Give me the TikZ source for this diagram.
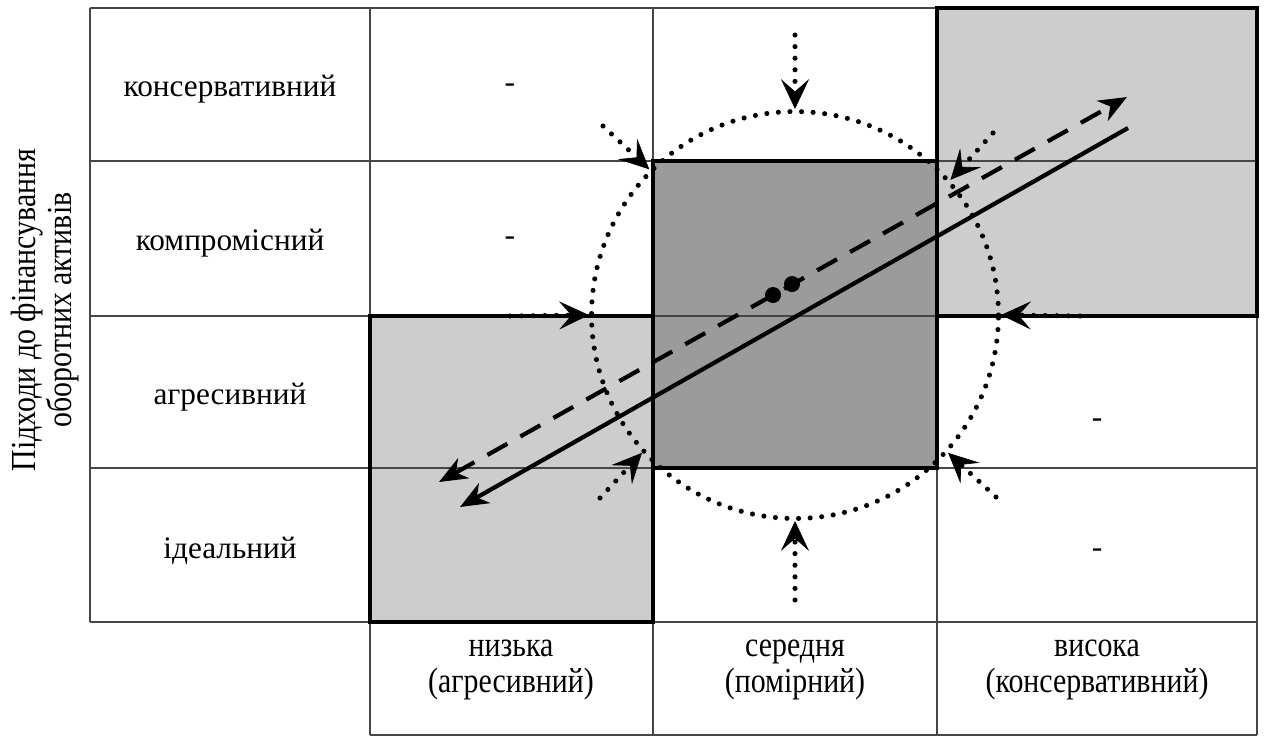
\documentclass[tikz,border=0pt]{standalone}
\usepackage{fontspec}
\setmainfont{Liberation Serif}
\newfontfamily\condfont[FakeStretch=0.85]{Liberation Serif}
\usetikzlibrary{arrows.meta}
\definecolor{lightbox}{RGB}{205,205,205}
\definecolor{darkbox}{RGB}{155,155,155}
\definecolor{gridc}{RGB}{70,70,70}
\tikzset{
  gridline/.style={draw=gridc, line width=0.9pt},
  thickbox/.style={draw=black, line width=2.6pt},
  dotline/.style={line width=2.9pt, dash pattern=on 0pt off 6.6pt, line cap=round},
  inarrow/.style={dotline, -{Stealth[length=17pt,width=16pt,inset=7pt,line width=0.4pt]}},
  rowlabel/.style={font=\fontsize{17.8}{20}\selectfont, inner sep=0},
  collabel/.style={font=\condfont\fontsize{20}{20.5}\selectfont, align=center, inner sep=0},
  minus/.style={font=\fontsize{18}{20}\selectfont, inner sep=0},
  mainline/.style={line width=2.4pt},
  dotmark/.style={circle, fill=black, minimum size=0.32cm, inner sep=0},
}
\begin{document}
\begin{tikzpicture}[x=0.02cm,y=-0.02cm]
\useasboundingbox (0,0) rectangle (1270,738);
% fills
\fill[lightbox] (370,316) rectangle (653,622);
\fill[darkbox] (653,161) rectangle (937,468);
\fill[lightbox] (937,8) rectangle (1257,316);
% grid
\foreach \y in {8,161,316,468,622} \draw[gridline] (90,\y) -- (1257,\y);
\draw[gridline, line width=1.3pt] (370,735) -- (1257,735);
\draw[gridline] (90,8) -- (90,622);
\foreach \x in {370,653,937,1257} \draw[gridline] (\x,8) -- (\x,735);
% thick boxes
\draw[thickbox] (370,316) rectangle (653,622);
\draw[thickbox] (653,161) rectangle (937,468);
\draw[thickbox] (937,8) rectangle (1257,316);
% row labels
\node[rowlabel] (r1) at (230,89) {консервативний};
\node[rowlabel] (r2) at (230,243) {компромісний};
\node[rowlabel] (r3) at (230,397) {агресивний};
\node[rowlabel] (r4) at (230,551) {ідеальний};
\node[collabel, rotate=90] (ylab) at (45,310) {Підходи до фінансування\\оборотних активів};
% column labels
\node[collabel] (c1) at (511,670) {низька\\(агресивний)};
\node[collabel] (c2) at (795,670) {середня\\(помірний)};
\node[collabel] (c3) at (1097,670) {висока\\(консервативний)};
% minus signs
\node[minus] (m1) at (510,88) {-};
\node[minus] (m2) at (510,241) {-};
\node[minus] (m3) at (1097,423) {-};
\node[minus] (m4) at (1097,553) {-};
% dotted ring
\node[draw, circle, dotline, minimum size=8.14cm, inner sep=0] (ring) at (795,315) {};
% inward arrows
\coordinate (aT) at (795,35);
\coordinate (aB) at (795,600);
\coordinate (aL) at (510,316);
\coordinate (aR) at (1080,316);
\coordinate (aTL) at (603,126);
\coordinate (aTR) at (993,133);
\coordinate (aBL) at (600,498);
\coordinate (aBR) at (996,497);
\draw[inarrow] (aT) -- (ring.north);
\draw[inarrow] (aB) -- (ring.south);
\draw[inarrow] (aL) -- (ring.west);
\draw[inarrow] (aR) -- (ring.east);
\draw[inarrow] (aTL) -- (ring.135);
\draw[inarrow] (aTR) -- (ring.41);
\draw[inarrow] (aBL) -- (ring.222);
\draw[inarrow] (aBR) -- (ring.318);
% main lines
\coordinate (sA) at (1128,128);
\coordinate (sB) at (460,507);
\draw[mainline, -{Stealth[length=16pt,width=13pt,inset=5pt]}] (sA) -- (sB);
\coordinate (dA) at (439,482);
\coordinate (dB) at (1127,97);
\draw[mainline, dash pattern=on 13pt off 8.5pt, {Stealth[length=16pt,width=13pt,inset=5pt]}-{Stealth[length=16pt,width=13pt,inset=5pt]}] (dA) -- (dB);
\node[dotmark] (p1) at (773,295) {};
\node[dotmark] (p2) at (792,284) {};
\end{tikzpicture}
\end{document}
